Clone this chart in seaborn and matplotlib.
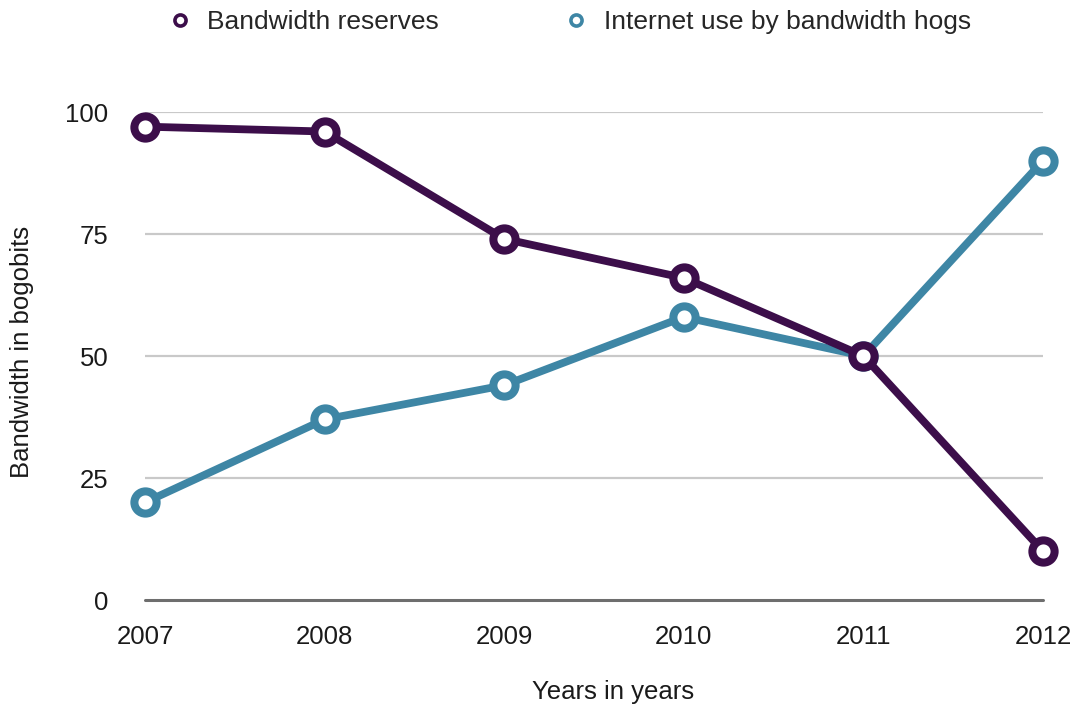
import matplotlib
matplotlib.use("Agg")
import matplotlib.pyplot as plt
import seaborn as sns
import pandas as pd
from matplotlib.lines import Line2D

years = [2007, 2008, 2009, 2010, 2011, 2012]
reserves = [97, 96, 74, 66, 50, 10]
hogs = [20, 37, 44, 58, 50, 90]
series_names = ["Bandwidth reserves", "Internet use by bandwidth hogs"]
yticks = [0, 25, 50, 75, 100]

purple = "#3c0e4a"
blue = "#3e86a5"

sns.set_theme(style="white")
plt.rcParams['font.family'] = ['Liberation Sans', 'DejaVu Sans']

fig = plt.figure(figsize=(10.76, 7.09), dpi=100)
ax = fig.add_axes([145/1076, 1-600/709, (1043-145)/1076, (600-112)/709])

df = pd.DataFrame({
    "year": years * 2,
    "value": reserves + hogs,
    "series": [series_names[0]] * len(years) + [series_names[1]] * len(years),
})

common = dict(marker="o", markersize=16, markeredgewidth=5.8, markerfacecolor="white",
              linewidth=5.6, clip_on=False, legend=False)
sns.lineplot(data=df[df.series == series_names[1]], x="year", y="value", ax=ax,
             color=blue, markeredgecolor=blue, zorder=3, **common)
sns.lineplot(data=df[df.series == series_names[0]], x="year", y="value", ax=ax,
             color=purple, markeredgecolor=purple, zorder=4, **common)

ax.set_xlim(2007, 2012)
ax.set_ylim(0, 100)
ax.set_xticks(years)
ax.set_xticklabels([str(y) for y in years])
ax.set_yticks(yticks)
ax.set_yticklabels([str(t) for t in yticks])
ax.tick_params(axis="both", length=0, labelsize=18.5, colors="#1a1a1a")
ax.tick_params(axis="y", pad=26.5)
ax.tick_params(axis="x", pad=18)

for t in yticks[1:]:
    ax.axhline(t, color="#c9c9c9", linewidth=1.6, zorder=1)
ax.axhline(0, color="#6e6e6e", linewidth=2.2, zorder=2, clip_on=False)
for s in ax.spines.values():
    s.set_visible(False)

ax.set_xlabel("")
ax.set_ylabel("")
fig.text(613/1076, 1-692/709, "Years in years", ha="center", va="center",
         fontsize=18.5, color="#1a1a1a")
fig.text(22/1076, 1-352/709, "Bandwidth in bogobits", ha="center", va="center",
         rotation=90, fontsize=18.5, color="#1a1a1a")

handles = [
    Line2D([], [], linestyle="none", marker="o", markersize=8, markeredgewidth=2.6,
           markerfacecolor="white", markeredgecolor=purple),
    Line2D([], [], linestyle="none", marker="o", markersize=8, markeredgewidth=2.6,
           markerfacecolor="white", markeredgecolor=blue),
]
fig.legend(handles, series_names, loc="center", bbox_to_anchor=(570/1076, 1-22/709),
           ncol=2, frameon=False, fontsize=19, handlelength=0.8, handletextpad=0.65,
           columnspacing=4.8)

fig.savefig("out.png", dpi=100)
